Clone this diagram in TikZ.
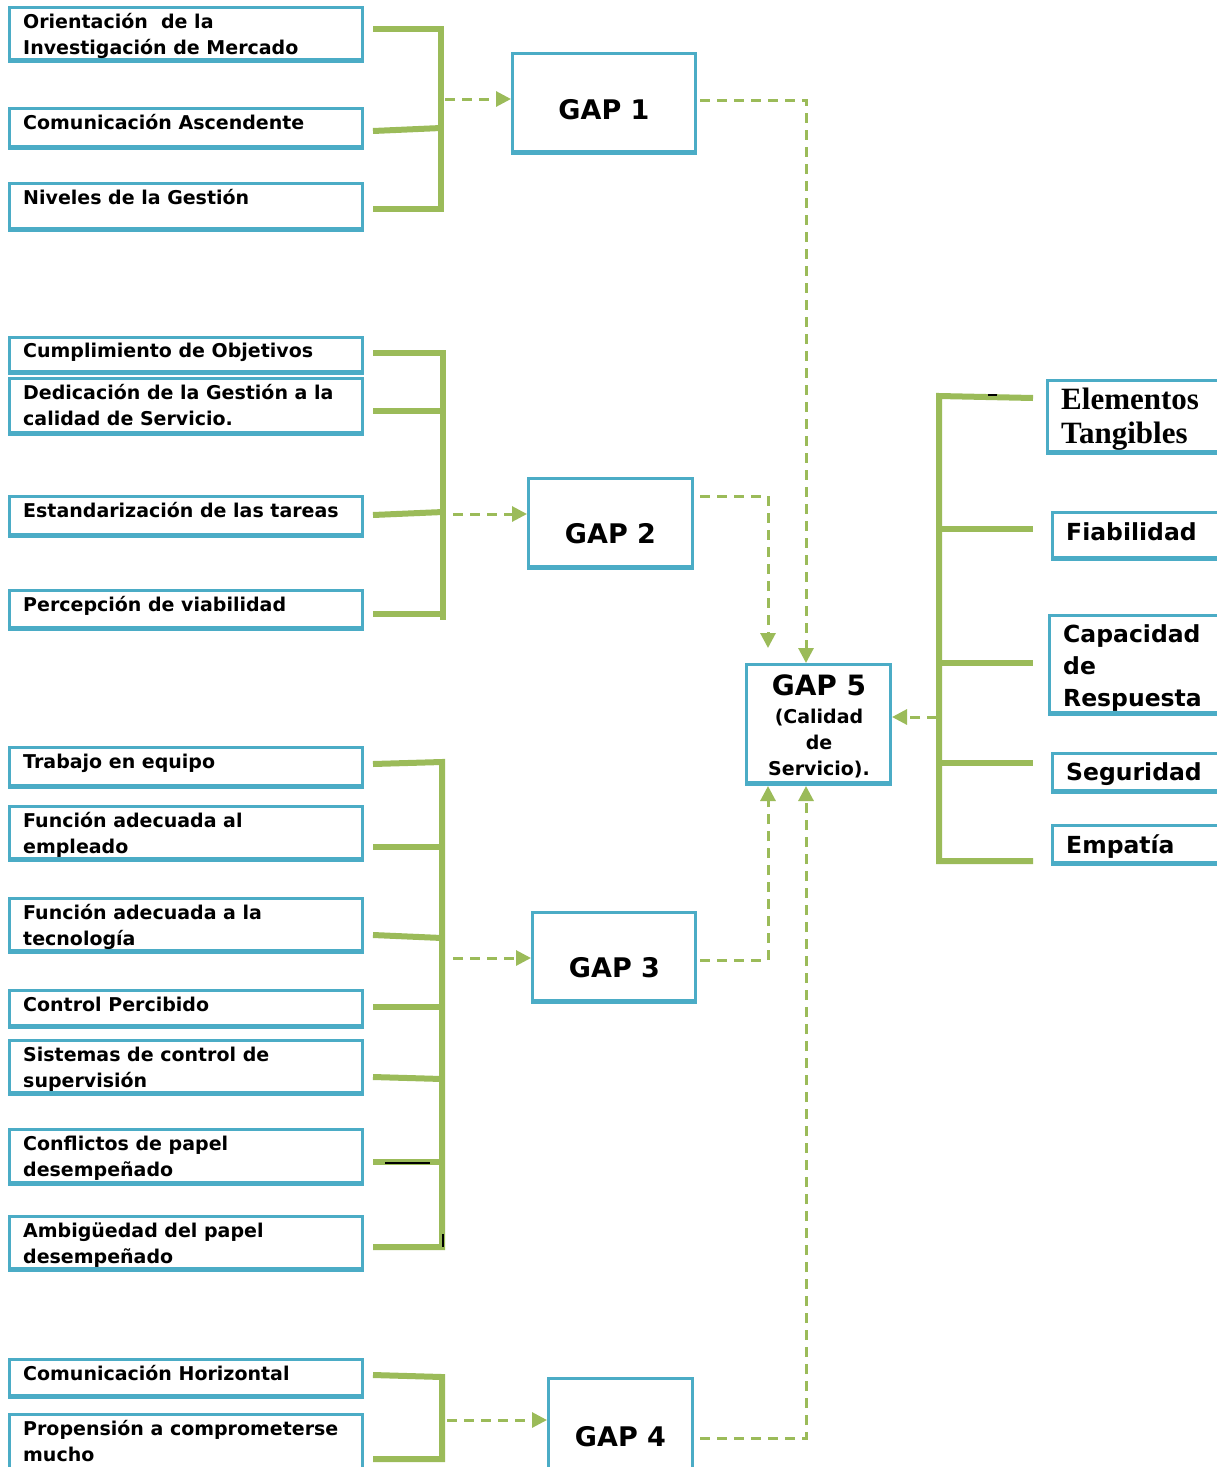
\documentclass[tikz,border=0pt]{standalone}
\usepackage{fontspec}
\setmainfont{DejaVu Sans}
\newfontfamily\titleserif{Liberation Serif}
\usetikzlibrary{arrows.meta}

\definecolor{boxblue}{HTML}{4BACC6}
\definecolor{leafgreen}{HTML}{9BBB59}

\tikzset{
  box/.style={draw=boxblue, line width=3pt, fill=white, rectangle, inner sep=0pt, anchor=north west},
  boxbase/.style={draw=boxblue, line width=5pt, line cap=butt},
  itemtext/.style={inner sep=0pt, anchor=base west, font=\bfseries\fontsize{19}{26}\selectfont},
  gaptext/.style={inner sep=0pt, anchor=base, font=\bfseries\fontsize{27}{32}\selectfont},
  dimtext/.style={inner sep=0pt, anchor=base west, font=\bfseries\fontsize{23.5}{32}\selectfont},
  brace/.style={draw=leafgreen, line width=6pt, line join=miter},
  flow/.style={draw=leafgreen, line width=3pt, dash pattern=on 10pt off 7pt,
    -{Triangle[length=15pt, width=15pt]}},
  stray/.style={draw=black, line width=2pt},
}

% box with a heavier lower edge: name, left, top, outer width, outer height
\newcommand\tbox[5]{%
  \node[box, minimum width={#4-3}, minimum height={#5-3}] (#1) at (#2,#3) {};
  \draw[boxbase] ([yshift=2.5pt]#1.south west) -- ([yshift=2.5pt]#1.south east);}
\newcommand\rows[1]{\begin{tabular}[t]{@{}l@{}}#1\end{tabular}}
\newcommand\crows[1]{\begin{tabular}[t]{@{}c@{}}#1\end{tabular}}

\begin{document}
\begin{tikzpicture}[x=1pt, y=-1pt]
\useasboundingbox (0,0) rectangle (1216,1467);

% ---- left-hand factor boxes ----
\tbox{b1}{8}{6}{356}{57}
\tbox{b2}{8}{107}{356}{43}
\tbox{b3}{8}{182}{356}{50}
\tbox{b4}{8}{336}{356}{39}
\tbox{b5}{8}{377}{356}{59}
\tbox{b6}{8}{495}{356}{43}
\tbox{b7}{8}{589}{356}{42}
\tbox{b8}{8}{746}{356}{43}
\tbox{b9}{8}{805}{356}{57}
\tbox{b10}{8}{897}{356}{57}
\tbox{b11}{8}{989}{356}{40}
\tbox{b12}{8}{1039}{356}{57}
\tbox{b13}{8}{1128}{356}{58}
\tbox{b14}{8}{1215}{356}{57}
\tbox{b15}{8}{1358}{356}{41}
\tbox{b16}{8}{1413}{356}{80}

\node[itemtext] (t1) at (23,28) {\rows{Orientación\ \ de la\\Investigación de Mercado}};
\node[itemtext] (t2) at (23,129) {Comunicación Ascendente};
\node[itemtext] (t3) at (23,204) {Niveles de la Gestión};
\node[itemtext] (t4) at (23,357) {Cumplimiento de Objetivos};
\node[itemtext] (t5) at (23,399) {\rows{Dedicación de la Gestión a la\\calidad de Servicio.}};
\node[itemtext] (t6) at (23,517) {Estandarización de las tareas};
\node[itemtext] (t7) at (23,611) {Percepción de viabilidad};
\node[itemtext] (t8) at (23,768) {Trabajo en equipo};
\node[itemtext] (t9) at (23,827) {\rows{Función adecuada al\\empleado}};
\node[itemtext] (t10) at (23,919) {\rows{Función adecuada a la\\tecnología}};
\node[itemtext] (t11) at (23,1011) {Control Percibido};
\node[itemtext] (t12) at (23,1061) {\rows{Sistemas de control de\\supervisión}};
\node[itemtext] (t13) at (23,1150) {\rows{Conflictos de papel\\desempeñado}};
\node[itemtext] (t14) at (23,1237) {\rows{Ambigüedad del papel\\desempeñado}};
\node[itemtext] (t15) at (23,1380) {Comunicación Horizontal};
\node[itemtext] (t16) at (23,1435) {\rows{Propensión a comprometerse\\mucho}};

% ---- gap boxes ----
\tbox{g1}{511}{52}{186}{103}
\tbox{g2}{527}{477}{167}{93}
\tbox{g3}{531}{911}{166}{93}
\tbox{g4}{547}{1377}{147}{110}
\tbox{g5}{745}{663}{147}{123}

\node[gaptext] (gt1) at (604,119) {GAP 1};
\node[gaptext] (gt2) at (610.5,543) {GAP 2};
\node[gaptext] (gt3) at (614.5,977) {GAP 3};
\node[gaptext] (gt4) at (620.5,1446) {GAP 4};
\node[gaptext, font=\bfseries\fontsize{28}{32}\selectfont] (gt5) at (819,695) {GAP 5};
\node[itemtext, anchor=base] (gt5s) at (819,723) {\crows{(Calidad\\de\\Servicio).}};

% ---- service-quality dimensions ----
\tbox{r1}{1046}{379}{200}{76}
\tbox{r2}{1051}{511}{200}{50}
\tbox{r3}{1048}{614}{200}{102}
\tbox{r4}{1051}{752}{200}{42}
\tbox{r5}{1051}{824}{200}{42}

\node[dimtext, font=\titleserif\bfseries\fontsize{31}{34}\selectfont] (d1) at (1061,409) {\rows{Elementos\\Tangibles}};
\node[dimtext] (d2) at (1066,540) {Fiabilidad};
\node[dimtext] (d3) at (1063,642) {\rows{Capacidad\\de\\Respuesta}};
\node[dimtext] (d4) at (1066,780) {Seguridad};
\node[dimtext] (d5) at (1066,853) {Empatía};

% ---- green brackets ----
\draw[brace] (373,29) -- (441,29) -- (441,209) -- (373,209);
\draw[brace] (373,131) -- (441,128);

\draw[brace] (373,353) -- (443,353) -- (443,620);
\draw[brace] (373,614) -- (443,614);
\draw[brace] (373,411) -- (443,411);
\draw[brace] (373,515) -- (443,512);

\draw[brace] (373,764) -- (442,762) -- (442,1247) -- (373,1247);
\draw[brace] (373,847) -- (442,847);
\draw[brace] (373,935) -- (442,938);
\draw[brace] (373,1007) -- (442,1007);
\draw[brace] (373,1077) -- (442,1079);
\draw[brace] (373,1162) -- (442,1162);

\draw[brace] (373,1375) -- (442,1377) -- (442,1459) -- (373,1459);

\draw[brace] (1033,398) -- (939,396) -- (939,861) -- (1033,861);
\draw[brace] (939,529) -- (1033,529);
\draw[brace] (939,663) -- (1033,663);
\draw[brace] (939,763) -- (1033,763);

% small dark marks on the brackets
\draw[stray, line width=1.5pt] (385,1163) -- (430,1163);
\draw[stray] (443,1234) -- (443,1247);
\draw[stray] (988,395) -- (997,395);

% ---- dashed connectors ----
\coordinate (j1) at (445,99);
\coordinate (j2) at (453,514);
\coordinate (j3) at (453,958);
\coordinate (j4) at (447,1420);
\coordinate (jr) at (937,717);
\coordinate (c1) at (806,100);
\coordinate (c2) at (768,496);
\coordinate (c3) at (768,960);
\coordinate (c4) at (806,1438);
\coordinate (g5in) at (768,648);

\draw[flow] (j1) -- (j1 -| g1.west);
\draw[flow] (j2) -- (j2 -| g2.west);
\draw[flow] (j3) -- (j3 -| g3.west);
\draw[flow] (j4) -- (j4 -| g4.west);
\draw[flow] (jr) -- (jr -| g5.east);

\draw[flow] ([xshift=3pt]g1.east |- c1) -- (c1) -- (c1 |- g5.north);
\draw[flow] ([xshift=6pt]g2.east |- c2) -- (c2) -- (g5in);
\draw[flow] ([xshift=3pt]g3.east |- c3) -- (c3) -- (c3 |- g5.south);
\draw[flow] ([xshift=6pt]g4.east |- c4) -- (c4) -- (c4 |- g5.south);
\end{tikzpicture}
\end{document}
